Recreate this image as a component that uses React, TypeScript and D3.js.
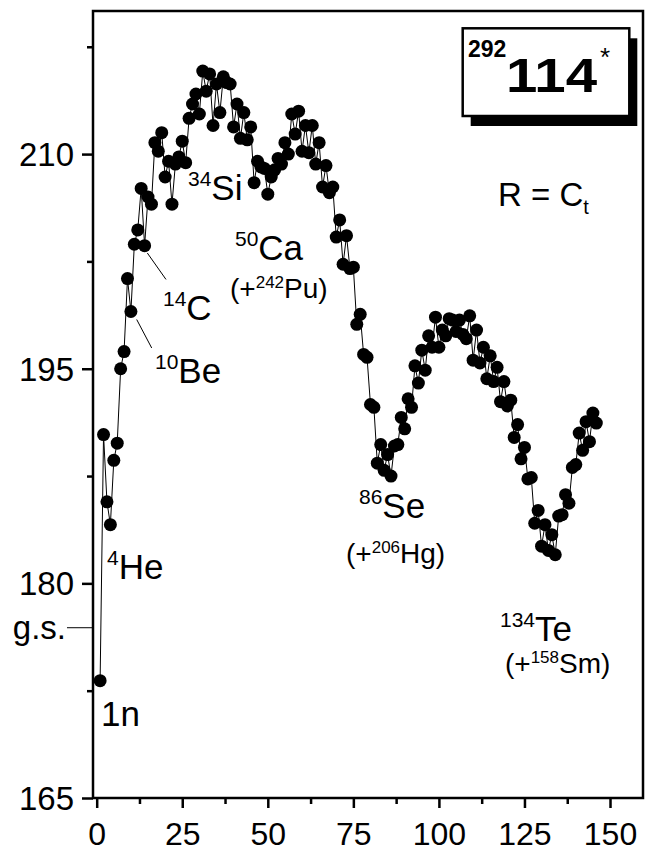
import React, { useEffect, useRef } from 'react';
import * as d3 from 'd3';

// fragment mass number A2 = 1 .. 146
const massNumbers = d3.range(1, 147);

// potential energy values, one per mass number
const energies = [
  173.2, 190.4, 185.7, 184.1, 188.6, 189.8, 195.0, 196.2, 201.3, 199.0,
  203.7, 204.7, 207.6, 203.6, 207.0, 206.5, 210.8, 210.2, 211.5, 208.4,
  209.5, 206.5, 209.3, 209.8, 210.9, 209.4, 212.5, 213.5, 214.2, 212.8,
  215.8, 214.4, 215.6, 212.0, 214.9, 212.9, 215.4, 215.0, 214.9, 211.9,
  213.5, 211.1, 212.9, 211.0, 211.9, 208.0, 209.5, 209.1, 209.0, 207.2,
  208.4, 208.9, 209.7, 209.3, 210.8, 210.0, 212.8, 211.4, 213.0, 210.2,
  212.0, 210.1, 212.0, 209.3, 210.8, 207.7, 209.2, 207.3, 207.7, 204.2,
  205.4, 202.3, 204.3, 202.0, 202.1, 198.1, 198.8, 196.0, 195.8, 192.5,
  192.3, 188.4, 189.7, 187.9, 189.0, 187.5, 189.6, 189.7, 191.6, 190.8,
  192.9, 192.3, 195.2, 194.0, 196.3, 194.9, 197.3, 196.5, 198.6, 196.5,
  197.7, 197.3, 198.5, 198.4, 197.6, 198.4, 197.4, 197.1, 198.7, 195.6,
  197.7, 195.4, 196.5, 194.3, 195.9, 194.1, 195.1, 192.7, 194.1, 192.4,
  192.8, 190.2, 191.1, 188.7, 189.5, 187.3, 187.4, 184.2, 185.1, 182.6,
  184.1, 182.3, 183.4, 182.0, 184.7, 184.8, 186.2, 185.6, 188.1, 188.3,
  190.5, 189.3, 191.3, 189.9, 191.9, 191.2
];

const xTicks = [0, 25, 50, 75, 100, 125, 150];
const xMinorTicks = [12.5, 37.5, 62.5, 87.5, 112.5, 137.5];
const yTicks = [165, 180, 195, 210];
const yMinorTicks = [172.5, 187.5, 202.5, 217.5];
const groundState = 176.9;

// fragment labels: anchor in data units, then [text, isSuperscript]
const labels = [
  { at: [1.26, 170.03], parts: [['1n', 0]] },
  { at: [3.01, 180.31], parts: [['4', 1], ['He', 0]] },
  { at: [17.04, 194.0], parts: [['10', 1], ['Be', 0]] },
  { at: [19.37, 198.38], parts: [['14', 1], ['C', 0]] },
  { at: [26.68, 206.77], parts: [['34', 1], ['Si', 0]] },
  { at: [40.41, 202.6], parts: [['50', 1], ['Ca', 0]] },
  { at: [76.65, 184.57], parts: [['86', 1], ['Se', 0]] },
  { at: [117.85, 175.97], parts: [['134', 1], ['Te', 0]] },
];
const partners = [
  { at: [38.95, 199.95], parts: [['(+', 0], ['242', 1], ['Pu)', 0]] },
  { at: [72.85, 181.42], parts: [['(+', 0], ['206', 1], ['Hg)', 0]] },
  { at: [119.3, 173.74], parts: [['(+', 0], ['158', 1], ['Sm)', 0]] },
];
const pointers = [
  [[11.69, 198.44], [16.07, 196.45]],
  [[14.79, 203.09], [20.25, 201.24]],
];

const FONT = '"Liberation Sans", Arial, Helvetica, sans-serif';

export default function App() {
  const ref = useRef<SVGSVGElement>(null);

  useEffect(() => {
    const svg = d3.select(ref.current);
    svg.selectAll('*').remove();

    const left = 93, right = 643, top = 11, bottom = 798;
    const x = d3.scaleLinear().domain([-1.08, 159.64]).range([left, right]);
    const y = d3.scaleLinear().domain([165, 220]).range([bottom, top]);

    const data = massNumbers.map((a, i) => ({ a, e: energies[i] }));

    // axes
    const xAxis = svg.append('g').attr('transform', `translate(0,${bottom})`)
      .call(d3.axisBottom(x).tickValues(xTicks).tickSize(10).tickFormat(d3.format('d')));
    xAxis.selectAll('text').attr('y', 47).attr('dy', 0)
      .attr('font-size', 32).attr('font-family', FONT).attr('fill', '#000');
    svg.append('g').attr('transform', `translate(0,${bottom})`)
      .call(d3.axisBottom(x).tickValues(xMinorTicks).tickSize(6).tickFormat(() => ''));

    const yAxis = svg.append('g').attr('transform', `translate(${left},0)`)
      .call(d3.axisLeft(y).tickValues(yTicks).tickSize(11).tickFormat(d3.format('d')));
    yAxis.selectAll('text').attr('x', -19).attr('dy', '0.35em')
      .attr('font-size', 33).attr('font-family', FONT).attr('fill', '#000');
    svg.append('g').attr('transform', `translate(${left},0)`)
      .call(d3.axisLeft(y).tickValues(yMinorTicks).tickSize(6).tickFormat(() => ''));

    svg.selectAll('.domain').remove();
    svg.selectAll('.tick line').attr('stroke', '#000').attr('stroke-width', 2.5);

    svg.append('rect')
      .attr('x', left).attr('y', top)
      .attr('width', right - left).attr('height', bottom - top)
      .attr('fill', 'none').attr('stroke', '#000').attr('stroke-width', 2.5);

    // ground state marker
    svg.append('line')
      .attr('x1', x(-8.68)).attr('x2', left)
      .attr('y1', y(groundState)).attr('y2', y(groundState))
      .attr('stroke', '#000').attr('stroke-width', 1);
    svg.append('text')
      .attr('x', x(-8.97)).attr('y', y(176.11))
      .attr('text-anchor', 'end').attr('font-size', 33).attr('font-family', FONT)
      .text('g.s.');

    // curve and points
    const line = d3.line<{ a: number; e: number }>().x(d => x(d.a)).y(d => y(d.e));
    svg.append('path').datum(data)
      .attr('d', line).attr('fill', 'none')
      .attr('stroke', '#000').attr('stroke-width', 1);
    svg.append('g').selectAll('circle').data(data).enter()
      .append('circle')
      .attr('cx', d => x(d.a)).attr('cy', d => y(d.e))
      .attr('r', 6.5).attr('fill', '#000');

    // pointer lines
    pointers.forEach(([p, q]) => {
      svg.append('line')
        .attr('x1', x(p[0])).attr('y1', y(p[1]))
        .attr('x2', x(q[0])).attr('y2', y(q[1]))
        .attr('stroke', '#000').attr('stroke-width', 1);
    });

    const addLabel = (item: any, size: number, supSize: number, shift: number) => {
      const t = svg.append('text')
        .attr('x', x(item.at[0])).attr('y', y(item.at[1]))
        .attr('font-family', FONT).attr('font-size', size);
      let raised = false;
      item.parts.forEach(([txt, sup]: [string, number]) => {
        const ts = t.append('tspan').text(txt);
        if (sup && !raised) { ts.attr('dy', -shift).attr('font-size', supSize); raised = true; }
        else if (!sup && raised) { ts.attr('dy', shift); raised = false; }
      });
    };
    labels.forEach(l => addLabel(l, 35, 21, 14));
    partners.forEach(l => addLabel(l, 28, 17, 10));

    // R = C_t
    const r = svg.append('text')
      .attr('x', x(117.27)).attr('y', y(206.4))
      .attr('font-family', FONT).attr('font-size', 33);
    r.append('tspan').text('R = C');
    r.append('tspan').attr('dy', 8).attr('font-size', 20).text('t');

    // nucleus box
    const box = svg.append('g');
    box.append('rect').attr('x', 470.7).attr('y', 38.3).attr('width', 166.6).attr('height', 87.7).attr('fill', '#000');
    box.append('rect').attr('x', 462.7).attr('y', 28.3).attr('width', 166.6).attr('height', 87.7)
      .attr('fill', '#fff').attr('stroke', '#000').attr('stroke-width', 2.5);
    box.append('text').attr('x', 468).attr('y', 57)
      .attr('font-family', FONT).attr('font-weight', 'bold').attr('font-size', 23).text('292');
    box.append('text').attr('x', 506).attr('y', 92)
      .attr('font-family', FONT).attr('font-weight', 'bold').attr('font-size', 48)
      .attr('textLength', 91).attr('lengthAdjust', 'spacingAndGlyphs').text('114');
    box.append('text').attr('x', 600).attr('y', 66)
      .attr('font-family', FONT).attr('font-size', 26).text('*');
  }, []);

  return (
    <svg ref={ref} width={650} height={863}
      style={{ position: 'absolute', left: 0, top: 0, background: '#fff' }} />
  );
}
